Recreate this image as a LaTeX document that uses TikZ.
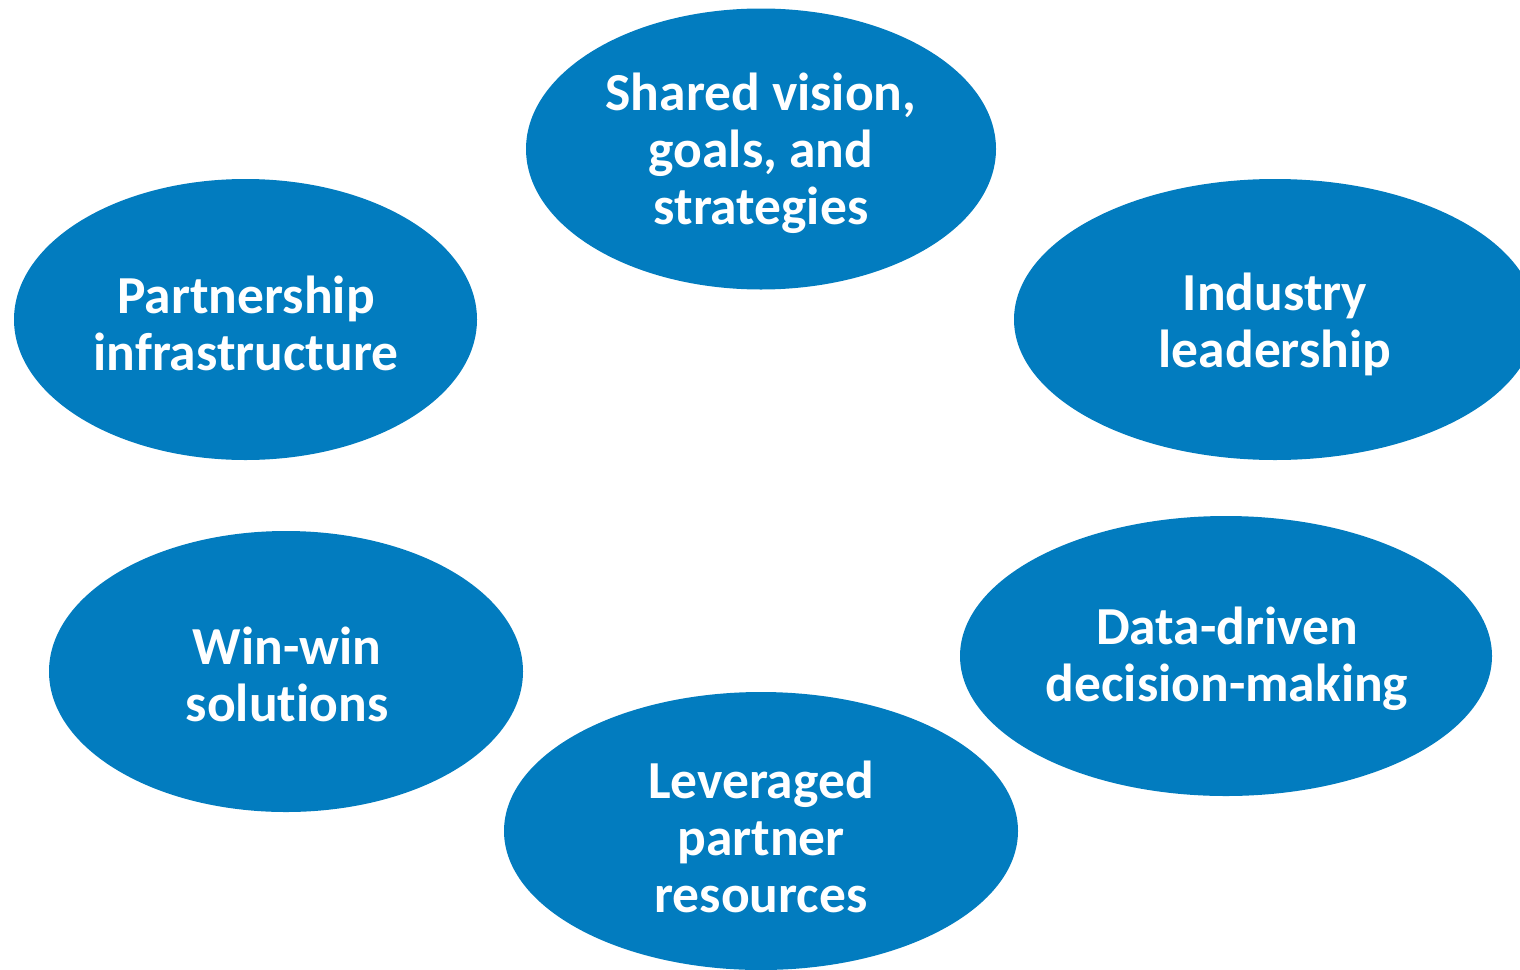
\documentclass[tikz,border=0pt]{standalone}
\usepackage{fontspec}
\setmainfont[Ligatures={NoCommon}]{Carlito}
\usetikzlibrary{shapes.geometric}
\definecolor{blob}{HTML}{027CBF}
\tikzset{
  blobshape/.style={ellipse, fill=blob, draw=none, inner sep=0pt},
  blobtext/.style={text=white, align=center, font=\bfseries\fontsize{53.5}{57}\selectfont, inner sep=0pt}
}
\begin{document}
\begin{tikzpicture}[x=1pt,y=-1pt]
\useasboundingbox (0,0) rectangle (1520,969);
\node[blobshape, minimum width=470pt, minimum height=281pt] (eA) at (761,149) {};
\node[blobshape, minimum width=463pt, minimum height=281pt] (eB) at (245.5,319.5) {};
\node[blobshape, minimum width=522pt, minimum height=281pt] (eC) at (1275,319.5) {};
\node[blobshape, minimum width=532pt, minimum height=280pt] (eD) at (1226,656) {};
\node[blobshape, minimum width=474pt, minimum height=281pt] (eE) at (286,671.5) {};
\node[blobshape, minimum width=514pt, minimum height=278pt] (eF) at (761,831) {};
\node[blobtext] (tA) at (761,153) {Shared vision,\\goals, and\\strategies};
\node[blobtext] (tB) at (246,323) {Partnership\\infrastructure};
\node[blobtext] (tC) at (1275,324) {Industry\\leadership};
\node[blobtext] (tD) at (1227,659) {Data-driven\\decision-making};
\node[blobtext] (tE) at (287,674) {Win-win\\solutions};
\node[blobtext] (tF) at (761,837) {Leveraged\\partner\\resources};
\end{tikzpicture}
\end{document}
